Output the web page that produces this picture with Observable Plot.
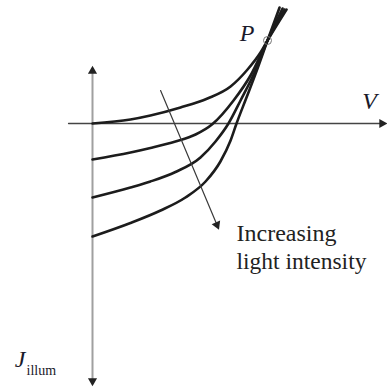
<!DOCTYPE html>
<html>
<head>
<meta charset="utf-8">
<script src="https://cdn.jsdelivr.net/npm/d3@7"></script>
<script src="https://cdn.jsdelivr.net/npm/@observablehq/plot@0.6"></script>
<style>
  html, body { margin: 0; padding: 0; background: #fff; }
  #chart svg { display: block; }
</style>
</head>
<body>
<div id="chart"></div>
<script>
// Illuminated J–V characteristics: current density vs. voltage (arbitrary units)
const seriesNames = ["low", "medium", "high", "highest"];
const voltage = [
  [0, 0.217, 0.331, 0.503, 0.657, 0.789, 0.886, 0.960, 1.0, 1.109],
  [0, 0.217, 0.331, 0.474, 0.589, 0.686, 0.806, 0.903, 1.0, 1.097],
  [0, 0.217, 0.331, 0.474, 0.617, 0.703, 0.777, 0.846, 0.931, 1.0, 1.086],
  [0, 0.217, 0.389, 0.531, 0.646, 0.731, 0.789, 0.823, 0.880, 0.943, 1.0, 1.069]
];
const current = [
  [0, 0.04, 0.08, 0.16, 0.25, 0.37, 0.54, 0.71, 0.83, 1.14],
  [-0.36, -0.29, -0.245, -0.18, -0.11, -0.005, 0.23, 0.48, 0.83, 1.14],
  [-0.74, -0.64, -0.58, -0.485, -0.34, -0.18, 0, 0.23, 0.53, 0.83, 1.15],
  [-1.13, -0.995, -0.87, -0.74, -0.58, -0.38, -0.17, 0, 0.26, 0.55, 0.83, 1.16]
];

// Common crossing point P
const pointP = {V: 1.0, J: 0.83};

// Axis extents
const jAxisRange = [-2.58, 0.52];
const vAxisRange = [-0.137, 1.66];

// "Increasing light intensity" arrow
const trendArrow = [{V: 0.389, J: 0.33}, {V: 0.711, J: -1.013}];

const curves = seriesNames.flatMap((name, i) =>
  voltage[i].map((v, k) => ({series: name, V: v, J: current[i][k]}))
);

const serif = "'Liberation Serif', 'DejaVu Serif', serif";

const chart = Plot.plot({
  width: 387,
  height: 388,
  margin: 0,
  x: {domain: [-92 / 175, 295 / 175], axis: null},
  y: {domain: [-2.65, 1.23], axis: null},
  style: {background: "#fff", overflow: "visible"},
  marks: [
    // J axis (vertical)
    Plot.line([{V: 0, J: jAxisRange[0]}, {V: 0, J: jAxisRange[1]}],
      {x: "V", y: "J", stroke: "#a0a0a0", strokeWidth: 2}),
    Plot.dot([{V: 0, J: 0.525, r: 0}, {V: 0, J: -2.575, r: 180}],
      {x: "V", y: "J", symbol: "triangle", r: 3.4, rotate: "r", fill: "#222", stroke: "none"}),
    // V axis (horizontal)
    Plot.line([{V: vAxisRange[0], J: 0}, {V: vAxisRange[1], J: 0}],
      {x: "V", y: "J", stroke: "#444", strokeWidth: 1.3}),
    Plot.dot([{V: 1.654, J: 0}],
      {x: "V", y: "J", symbol: "triangle", r: 3.4, rotate: 90, fill: "#222", stroke: "none"}),
    // J–V curves
    Plot.line(curves, {
      x: "V", y: "J", z: "series", curve: "monotone-x",
      stroke: "#1c1c1c", strokeWidth: 2.6, strokeLinecap: "round"
    }),
    // Crossing point marker
    Plot.dot([pointP], {x: "V", y: "J", r: 4, stroke: "#777", strokeWidth: 1, fill: "none"}),
    // Trend arrow
    Plot.line(trendArrow, {x: "V", y: "J", stroke: "#3a3a3a", strokeWidth: 1.2}),
    Plot.dot([trendArrow[1]], {
      x: "V", y: "J", symbol: "triangle", r: 3.4, rotate: 157, fill: "#222", stroke: "none"
    }),
    // Labels
    Plot.text(["P"], {x: () => 0.883, y: () => 0.897, text: d => d,
      fontFamily: serif, fontStyle: "italic", fontSize: 24, fill: "#1a1a2a"}),
    Plot.text(["V"], {x: () => 1.583, y: () => 0.224, text: d => d,
      fontFamily: serif, fontStyle: "italic", fontSize: 24, fill: "#1a1a2a"}),
    Plot.text(["J"], {x: () => -0.414, y: () => -2.363, text: d => d,
      fontFamily: serif, fontStyle: "italic", fontSize: 24, fill: "#1a1a2a"}),
    Plot.text(["illum"], {x: () => -0.377, y: () => -2.475, text: d => d, textAnchor: "start",
      fontFamily: serif, fontSize: 14, fill: "#1a1a2a"}),
    Plot.text(["Increasing"], {x: () => 0.823, y: () => -1.096, text: d => d, textAnchor: "start",
      fontFamily: serif, fontSize: 24, fill: "#222"}),
    Plot.text(["light intensity"], {x: () => 0.823, y: () => -1.376, text: d => d, textAnchor: "start",
      fontFamily: serif, fontSize: 23.5, fill: "#222"})
  ]
});

document.getElementById("chart").appendChild(chart);
</script>
</body>
</html>
